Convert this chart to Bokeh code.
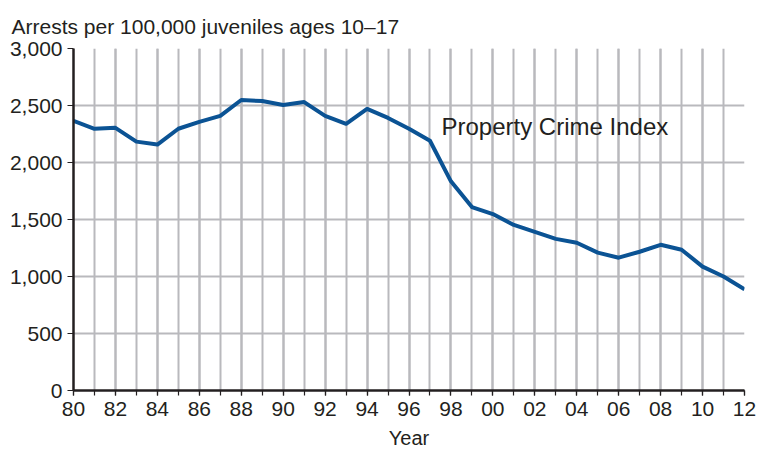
from bokeh.plotting import figure
from bokeh.models import Range1d, SingleIntervalTicker, NumeralTickFormatter, Label
from bokeh.embed import file_html
from bokeh.resources import INLINE

years = list(range(1980, 2013))
rates = [2365, 2296, 2304, 2183, 2157, 2296, 2357, 2409, 2548, 2539,
         2504, 2530, 2409, 2339, 2470, 2391, 2296, 2191, 1835, 1609,
         1548, 1452, 1391, 1330, 1296, 1209, 1165, 1217, 1278, 1235,
         1087, 1000, 887]
series_name = "Property Crime Index"
title_text = "Arrests per 100,000 juveniles ages 10\u201317"
x_label = "Year"

FONT = "Liberation Sans"
TXT = "#231f20"
GRID = "#b9b9bd"

p = figure(width=767, height=451, output_backend="svg", toolbar_location=None,
           x_range=Range1d(1980, 2012), y_range=Range1d(0, 3000),
           min_border_left=73, min_border_right=23, min_border_top=48,
           min_border_bottom=58)
p.outline_line_color = None
p.background_fill_color = "white"

p.title.text = title_text
p.title.text_font = FONT
p.title.text_font_size = "21px"
p.title.text_font_style = "normal"
p.title.text_color = TXT
p.title.align = "left"
p.title.offset = -62
p.title.standoff = 22

p.line(years, rates, line_color="#0b5394", line_width=4, line_join="round")

p.add_layout(Label(x=1997.55, y=2313, text=series_name, text_font=FONT,
                   text_font_size="24px", text_color=TXT,
                   text_baseline="middle", text_align="left"))

xt = SingleIntervalTicker(interval=2, num_minor_ticks=2)
p.xaxis.ticker = xt
p.xgrid.ticker = xt
p.xaxis.major_label_overrides = {y: f"{y % 100:02d}" for y in range(1980, 2013, 2)}
yt = SingleIntervalTicker(interval=500, num_minor_ticks=0)
p.yaxis.ticker = yt
p.ygrid.ticker = yt
p.yaxis.formatter = NumeralTickFormatter(format="0,0")

for ax in (p.xaxis, p.yaxis):
    ax.axis_line_color = "#231f20"
    ax.axis_line_width = 2.5
    ax.major_tick_line_color = "#231f20"
    ax.minor_tick_line_color = "#231f20"
    ax.major_tick_line_width = 1.2
    ax.minor_tick_line_width = 1.2
    ax.major_tick_in = 0
    ax.minor_tick_in = 0
    ax.major_label_text_font = FONT
    ax.major_label_text_font_size = "21px"
    ax.major_label_text_color = TXT

p.xaxis.major_tick_out = 5
p.xaxis.minor_tick_out = 5
p.yaxis.major_tick_out = 6
p.yaxis.minor_tick_out = 0
p.yaxis.major_label_standoff = 5
p.xaxis.major_label_standoff = 6

p.xaxis.axis_label = x_label
p.xaxis.axis_label_text_font = FONT
p.xaxis.axis_label_text_font_size = "20px"
p.xaxis.axis_label_text_font_style = "normal"
p.xaxis.axis_label_text_color = TXT
p.xaxis.axis_label_standoff = 8

p.xgrid.grid_line_color = GRID
p.xgrid.grid_line_width = 2
p.xgrid.minor_grid_line_color = GRID
p.xgrid.minor_grid_line_width = 2
p.ygrid.grid_line_color = GRID
p.ygrid.grid_line_width = 2

open("out.html", "w").write(file_html(p, INLINE))
